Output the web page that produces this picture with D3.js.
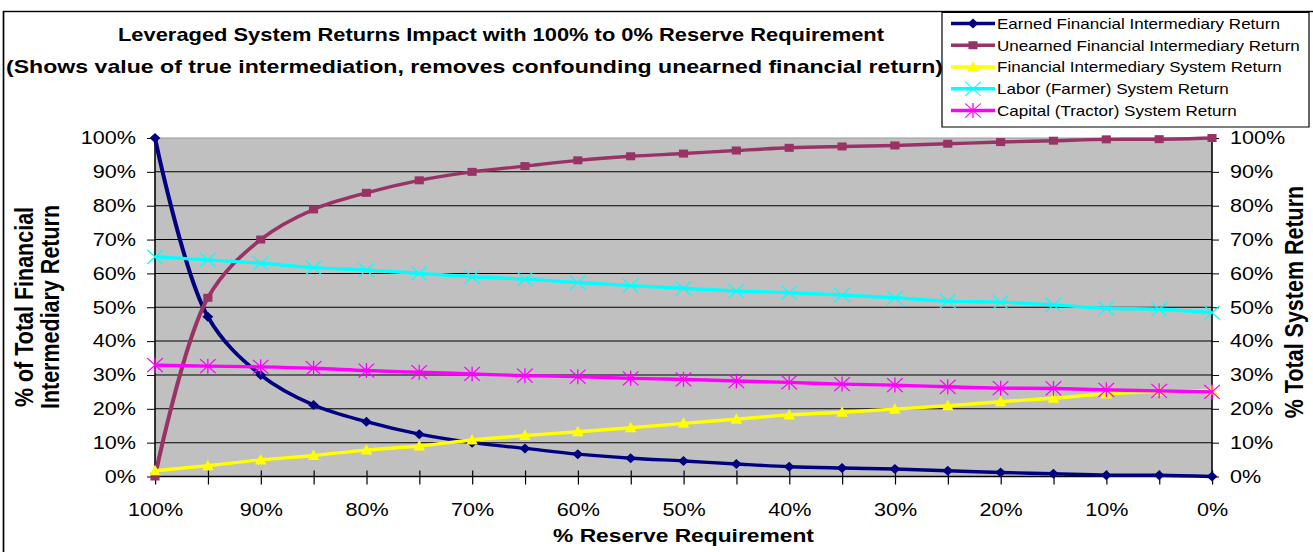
<!DOCTYPE html>
<html>
<head>
<meta charset="utf-8">
<script src="https://cdn.jsdelivr.net/npm/d3@7"></script>
<style>
  html, body { margin: 0; padding: 0; background: #fff; }
  svg { display: block; font-family: "Liberation Sans", Arial, sans-serif; }
</style>
</head>
<body>
<svg id="chart" width="1313" height="552"></svg>
<script>
// Reserve requirement steps (x axis), from 100% down to 0%
const reserveLevels = ["100%","95%","90%","85%","80%","75%","70%","65%","60%","55%","50%",
                       "45%","40%","35%","30%","25%","20%","15%","10%","5%","0%"];
const labelledLevels = ["100%","90%","80%","70%","60%","50%","40%","30%","20%","10%","0%"];
const yTickValues = [0,10,20,30,40,50,60,70,80,90,100];

// Series values, in percent
const earnedReturn   = [100, 47.2, 30.0, 21.1, 16.2, 12.5, 10.0, 8.3, 6.6, 5.4, 4.6,
                        3.7, 2.9, 2.5, 2.2, 1.7, 1.2, 0.8, 0.4, 0.35, 0];
const unearnedReturn = [0, 52.8, 70.0, 78.9, 83.8, 87.5, 90.0, 91.7, 93.4, 94.6, 95.4,
                        96.3, 97.1, 97.5, 97.8, 98.3, 98.8, 99.2, 99.6, 99.65, 100];
const financialSystemReturn = [1.7, 3.2, 4.9, 6.2, 7.8, 9.0, 10.8, 12.1, 13.2, 14.4, 15.7,
                               16.9, 18.2, 19.0, 19.9, 20.9, 22.1, 23.1, 24.4, 25.1, 25.4];
const laborReturn    = [64.9, 64.0, 63.0, 61.7, 61.0, 60.0, 59.0, 58.3, 57.3, 56.4, 55.6,
                        54.8, 54.3, 53.6, 52.8, 51.8, 51.5, 50.7, 49.7, 49.4, 48.4];
const capitalReturn  = [32.9, 32.6, 32.4, 32.0, 31.3, 30.8, 30.3, 29.8, 29.5, 29.0, 28.7,
                        28.2, 27.8, 27.3, 27.0, 26.5, 26.1, 26.0, 25.6, 25.3, 25.0];

const seriesNames = ["Earned Financial Intermediary Return",
                     "Unearned Financial Intermediary Return",
                     "Financial Intermediary System Return",
                     "Labor (Farmer) System Return",
                     "Capital (Tractor) System Return"];
const seriesColors = ["#000080", "#993366", "#FFFF00", "#00FFFF", "#FF00FF"];
const seriesMarkers = ["diamond", "square", "triangle", "cross", "asterisk"];
const seriesValues = [earnedReturn, unearnedReturn, financialSystemReturn, laborReturn, capitalReturn];

// The whole drawing is widened horizontally by SX; px() converts page x to drawing x
const SX = 1.2;
const px = v => v / SX;

const svg = d3.select("#chart");
const root = svg.append("g").attr("transform", `scale(${SX},1)`);

const plot = { left: 155, right: 1212, top: 138, bottom: 476.5 };

const x = d3.scalePoint().domain(reserveLevels).range([px(plot.left), px(plot.right)]);
const y = d3.scaleLinear().domain([0, 100]).range([plot.bottom, plot.top]);

// Outer frame
root.append("rect")
  .attr("x", px(3.5)).attr("y", 11.5)
  .attr("width", px(1400)).attr("height", 700)
  .attr("fill", "#fff").attr("stroke", "#000").attr("stroke-width", 1.4);

// Title
const title = root.append("g").attr("font-weight", "bold").attr("font-size", 18)
  .attr("fill", "#000");
title.append("text").attr("x", px(118)).attr("y", 41)
  .attr("textLength", px(766)).attr("lengthAdjust", "spacingAndGlyphs")
  .text("Leveraged System Returns Impact with 100% to 0% Reserve Requirement");
title.append("text").attr("x", px(6)).attr("y", 73)
  .attr("textLength", px(937)).attr("lengthAdjust", "spacingAndGlyphs")
  .text("(Shows value of true intermediation, removes confounding unearned financial return)");

// Plot area
root.append("rect")
  .attr("x", px(plot.left)).attr("y", plot.top)
  .attr("width", px(plot.right - plot.left)).attr("height", plot.bottom - plot.top)
  .attr("fill", "#C0C0C0");

// Horizontal gridlines
root.append("g").selectAll("line")
  .data(yTickValues.filter(v => v > 0))
  .join("line")
  .attr("x1", px(plot.left)).attr("x2", px(plot.right))
  .attr("y1", d => y(d)).attr("y2", d => y(d))
  .attr("stroke", d => d === 100 ? "#9a9a9a" : "#000").attr("stroke-width", 1);

// Left axis
const leftAxis = root.append("g")
  .attr("transform", `translate(${px(plot.left)},0)`)
  .call(d3.axisLeft(y).tickValues(yTickValues).tickFormat(d => d + "%")
        .tickSize(px(8)).tickPadding(px(11)));
// Right axis
const rightAxis = root.append("g")
  .attr("transform", `translate(${px(plot.right)},0)`)
  .call(d3.axisRight(y).tickValues(yTickValues).tickFormat(d => d + "%")
        .tickSize(px(7)).tickPadding(px(11)));
// Bottom axis: every step ticked, every other step labelled
const bottomAxis = root.append("g")
  .attr("transform", `translate(0,${plot.bottom})`)
  .call(d3.axisBottom(x).tickSize(8).tickPadding(19)
        .tickFormat(d => labelledLevels.includes(d) ? d : ""));
bottomAxis.selectAll(".tick line").attr("y1", -6);

[leftAxis, rightAxis, bottomAxis].forEach(a => {
  a.select(".domain").attr("stroke", "#000").attr("stroke-width", 1.3);
  a.selectAll(".tick line").attr("stroke", "#000").attr("stroke-width", 1);
  a.selectAll(".tick text").attr("font-size", 18).attr("fill", "#000")
    .attr("font-family", "Liberation Sans, Arial, sans-serif");
});
leftAxis.select(".domain").attr("d", `M0,${plot.top}V${plot.bottom}`);
rightAxis.select(".domain").attr("d", `M0,${plot.top}V${plot.bottom}`);
bottomAxis.select(".domain").attr("d", `M${px(plot.left)},0H${px(plot.right)}`);

// Axis titles
const axisTitles = root.append("g").attr("font-weight", "bold").attr("fill", "#000")
  .attr("text-anchor", "middle");
axisTitles.append("text").attr("font-size", 19)
  .attr("x", px(683.5)).attr("y", 542).text("% Reserve Requirement");
axisTitles.append("text").attr("font-size", 21.5)
  .attr("transform", `translate(${px(33)},307) rotate(-90)`).text("% of Total Financial");
axisTitles.append("text").attr("font-size", 21.5)
  .attr("transform", `translate(${px(59)},307) rotate(-90)`).text("Intermediary Return");
axisTitles.append("text").attr("font-size", 21.5)
  .attr("transform", `translate(${px(1303)},302) rotate(-90)`).text("% Total System Return");

// Marker shapes (drawing units, centred on 0,0)
function drawMarker(g, kind, color) {
  switch (kind) {
    case "diamond":
      g.append("path").attr("d", "M0,-5L4.5,0L0,5L-4.5,0Z").attr("fill", color);
      break;
    case "square":
      g.append("rect").attr("x", -3.8).attr("y", -4).attr("width", 7.6).attr("height", 8)
        .attr("fill", color);
      break;
    case "triangle":
      g.append("path").attr("d", "M0,-6L4.8,4.5L-4.8,4.5Z").attr("fill", color);
      break;
    case "cross":
      g.append("path").attr("d", "M-6.5,-7L6.5,7M-6.5,7L6.5,-7")
        .attr("stroke", color).attr("stroke-width", 1.1).attr("fill", "none");
      break;
    case "asterisk":
      g.append("path").attr("d", "M-6.5,-7L6.5,7M-6.5,7L6.5,-7M0,-7.5V7.5")
        .attr("stroke", color).attr("stroke-width", 1.1).attr("fill", "none");
      break;
  }
}

// Series lines and markers
const line = d3.line()
  .x((d, i) => x(reserveLevels[i]))
  .y(d => y(d))
  .curve(d3.curveCatmullRom.alpha(0.5));

const seriesLayer = root.append("g");
seriesValues.forEach((values, s) => {
  const g = seriesLayer.append("g");
  g.append("path").datum(values)
    .attr("d", line)
    .attr("fill", "none")
    .attr("stroke", seriesColors[s])
    .attr("stroke-width", 3.4)
    .attr("stroke-linejoin", "round");
  g.selectAll("g.marker").data(values).join("g")
    .attr("class", "marker")
    .attr("transform", (d, i) => `translate(${x(reserveLevels[i])},${y(d)})`)
    .each(function () { drawMarker(d3.select(this), seriesMarkers[s], seriesColors[s]); });
});

// Legend
const legend = root.append("g");
legend.append("rect")
  .attr("x", px(942)).attr("y", 12.5)
  .attr("width", px(1309 - 942)).attr("height", 127 - 12.5)
  .attr("fill", "#fff").attr("stroke", "#000").attr("stroke-width", 1);
const rowY = i => 23.5 + i * 21.75;
seriesNames.forEach((name, i) => {
  const row = legend.append("g");
  row.append("line")
    .attr("x1", px(951)).attr("x2", px(995))
    .attr("y1", rowY(i)).attr("y2", rowY(i))
    .attr("stroke", seriesColors[i]).attr("stroke-width", 3.4);
  const m = row.append("g").attr("transform", `translate(${px(973)},${rowY(i)})`);
  drawMarker(m, seriesMarkers[i], seriesColors[i]);
  row.append("text")
    .attr("x", px(997)).attr("y", rowY(i) + 5.3)
    .attr("font-size", 14.2).attr("fill", "#000")
    .text(name);
});
</script>
</body>
</html>
